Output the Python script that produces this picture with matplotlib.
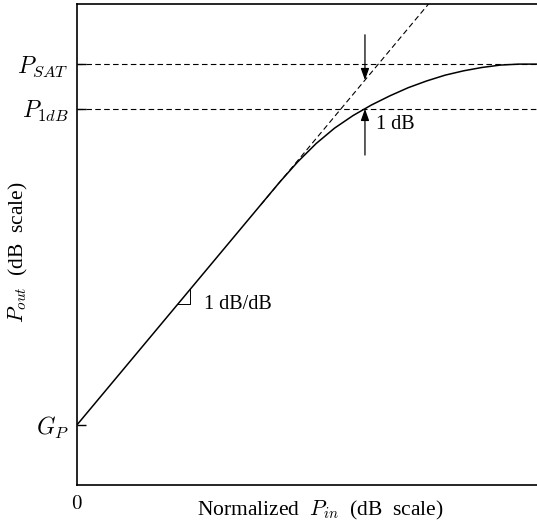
import numpy as np
import matplotlib
matplotlib.use('Agg')
import matplotlib.pyplot as plt

plt.rcParams['font.family'] = ['Liberation Serif', 'DejaVu Serif']
plt.rcParams['mathtext.fontset'] = 'cm'

# levels on the (normalized) output axis
gp = 12.5
p1db = 78.2
psat = 87.5
slope = 1.145

# compressed region of the transfer curve
pin_curve = [0, 44, 48, 52, 56, 60, 64, 68, 72, 76, 80, 84, 88, 92, 96, 100]
pout_curve = [12.5, 62.9, 67.2, 71.0, 74.2, 76.8, 79.0, 80.9, 82.6, 84.0,
              85.2, 86.1, 86.8, 87.3, 87.5, 87.5]

# input level where the 1 dB point sits
pin_1db = 62.6

fig = plt.figure(figsize=(5.37, 5.25), dpi=100)
ax = fig.add_axes([77 / 537, 40 / 525, 460 / 537, 481 / 525])
ax.set_xlim(0, 100)
ax.set_ylim(0, 100)

dash = (0, (5, 3))
# saturation and 1 dB levels
ax.plot([0, 100], [psat, psat], color='black', lw=0.8, linestyle=dash)
ax.plot([0, 100], [p1db, p1db], color='black', lw=0.8, linestyle=dash)

# linear extrapolation
xl = np.array([40, (100 - gp) / slope])
ax.plot(xl, gp + slope * xl, color='black', lw=0.8, linestyle=dash)

# actual curve
ax.plot(pin_curve, pout_curve, color='black', lw=1.1, solid_capstyle='butt')

# slope marker
ax.plot([22, 24.6, 24.6], [gp + slope * 22, gp + slope * 22, gp + slope * 24.6],
        color='black', lw=0.7)
ax.text(27.5, 37.6, '1 dB/dB', fontsize=14.5, va='center', ha='left')

# 1 dB arrows
arr = dict(arrowstyle='-|>,head_length=0.7,head_width=0.25', color='black',
           lw=0.9, shrinkA=0, shrinkB=0, mutation_scale=10)
lin_at = gp + slope * pin_1db
ax.annotate('', xy=(pin_1db, lin_at), xytext=(pin_1db, 93.6), arrowprops=arr)
ax.annotate('', xy=(pin_1db, p1db), xytext=(pin_1db, 68.6), arrowprops=arr)
ax.text(65, 75, '1 dB', fontsize=14.5, va='center', ha='left')

for side in ['right']:
    ax.spines[side].set_visible(False)
for side in ['left', 'top', 'bottom']:
    ax.spines[side].set_linewidth(1.2)

ax.set_yticks([gp, p1db, psat])
ax.set_yticklabels(['$G_P$', '$P_{1dB}$', '$P_{SAT}$'], fontsize=17)
ax.tick_params(axis='y', direction='in', length=6.5, width=1.0, pad=6)
ax.set_xticks([0])
ax.set_xticklabels(['$0$'], fontsize=15)
ax.tick_params(axis='x', length=0, pad=7)

fig.text(320 / 537, 1 - 510 / 525, 'Normalized  $P_{in}$  (dB  scale)', fontsize=15.5,
         ha='center', va='center')
fig.text(18 / 537, 1 - 252 / 525, '$P_{out}$  (dB  scale)', fontsize=15.5,
         ha='center', va='center', rotation=90)

fig.savefig('out.png', dpi=100)
